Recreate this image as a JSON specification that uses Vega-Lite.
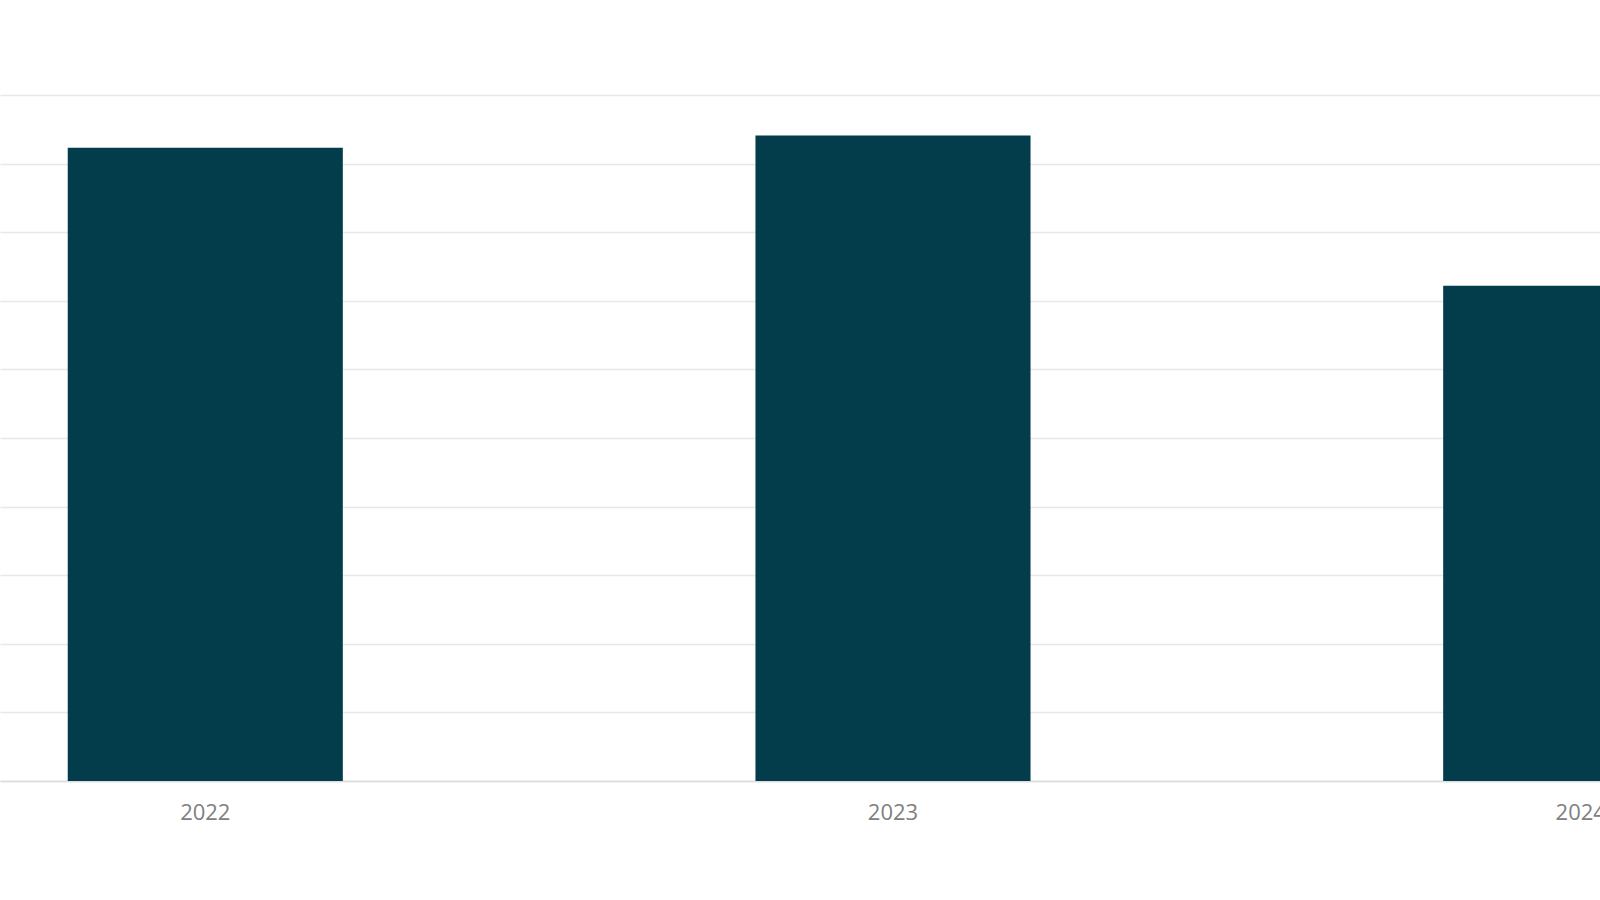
{
  "$schema": "https://vega.github.io/schema/vega-lite/v6.json",
  "autosize": {"type": "none"},
  "width": 1786,
  "height": 686,
  "padding": {"left": 0, "top": 95, "right": 0, "bottom": 119},
  "background": "white",
  "config": {"view": {"stroke": null}, "font": "Open Sans"},
  "data": {
    "values": [
      {"year": "2022", "value": 92.3},
      {"year": "2023", "value": 94.1},
      {"year": "2024", "value": 72.2}
    ]
  },
  "mark": {"type": "bar", "color": "#033c4a"},
  "encoding": {
    "x": {
      "field": "year",
      "type": "ordinal",
      "scale": {"paddingInner": 0.6, "paddingOuter": 0.0985},
      "axis": {
        "title": null,
        "labelAngle": 0,
        "labelFont": "Open Sans",
        "labelFontSize": 22,
        "labelColor": "#808080",
        "labelPadding": 21,
        "ticks": false,
        "domainColor": "#dcdcdc",
        "domainWidth": 1.5,
        "grid": false
      }
    },
    "y": {
      "field": "value",
      "type": "quantitative",
      "scale": {"domain": [0, 100]},
      "axis": {
        "title": null,
        "labels": false,
        "ticks": false,
        "domain": false,
        "tickCount": 10,
        "grid": true,
        "gridColor": "#e8e8e8",
        "gridWidth": 1.5
      }
    }
  }
}
